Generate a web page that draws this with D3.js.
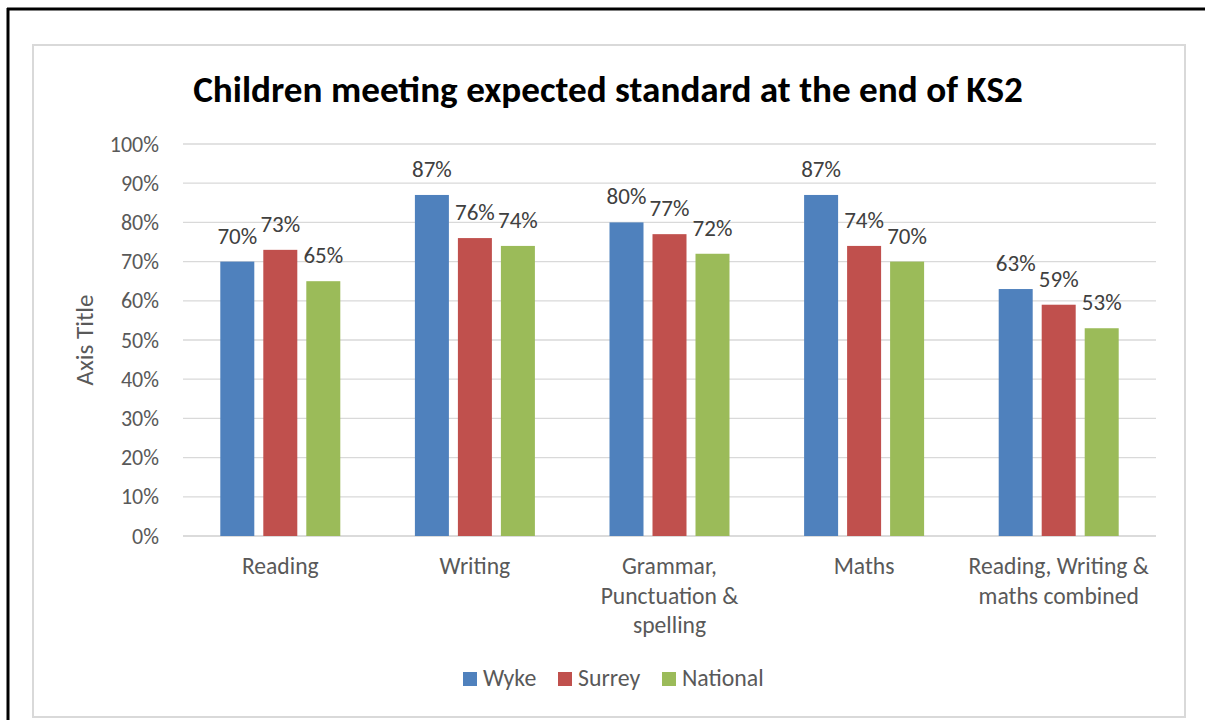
<!DOCTYPE html>
<html><head><meta charset="utf-8">
<script src="https://cdn.jsdelivr.net/npm/d3@7"></script>
<style>
html,body{margin:0;padding:0;background:#fff;}
svg{display:block;font-family:Calibri,Carlito,Lato,sans-serif;}
</style></head>
<body><svg id="c" width="1205" height="720"></svg>
<script>
const categories = [["Reading"],["Writing"],["Grammar,","Punctuation &","spelling"],["Maths"],["Reading, Writing &","maths combined"]];
const catKeys = ["Reading","Writing","Grammar","Maths","Combined"];
const seriesNames = ["Wyke","Surrey","National"];
const wyke = [70,87,80,87,63];
const surrey = [73,76,77,74,59];
const national = [65,74,72,70,53];
const colors = ["#4F81BD","#C0504D","#9BBB59"];
const yTicks = [0,10,20,30,40,50,60,70,80,90,100];
const seriesValues = [wyke, surrey, national];

const svg = d3.select("#c");
// outer black border (top and left)
svg.append("line").attr("x1",7).attr("x2",1205).attr("y1",9).attr("y2",9).attr("stroke","#000").attr("stroke-width",3);
svg.append("line").attr("x1",8).attr("x2",8).attr("y1",8).attr("y2",720).attr("stroke","#000").attr("stroke-width",3);
// chart area box
svg.append("rect").attr("x",33).attr("y",45).attr("width",1152).attr("height",672).attr("fill","#fff").attr("stroke","#d9d9d9").attr("stroke-width",2);

const x0 = d3.scaleBand().domain(catKeys).range([183,1156]).paddingInner(0).paddingOuter(0);
const y = d3.scaleLinear().domain([0,100]).range([536,144]);
const barW = 34, gap = 9;

// gridlines
svg.append("g").selectAll("line").data(yTicks).join("line")
  .attr("x1",183).attr("x2",1156).attr("y1",d=>y(d)).attr("y2",d=>y(d))
  .attr("stroke","#d9d9d9").attr("stroke-width",1.3);

// y axis labels
const yAxis = d3.axisLeft(y).tickValues(yTicks).tickFormat(d=>d+"%").tickSize(0).tickPadding(0);
const ya = svg.append("g").attr("transform","translate(159,0)").call(yAxis);
ya.select(".domain").remove();
ya.selectAll("text").attr("font-size",22).attr("fill","#595959").attr("font-family","Calibri,Carlito,Lato,sans-serif");

// x axis
svg.append("line").attr("x1",183).attr("x2",1156).attr("y1",y(0)).attr("y2",y(0)).attr("stroke","#d9d9d9").attr("stroke-width",1.5);

// bars + labels
seriesValues.forEach((vals,si)=>{
  const off = (si-1)*(barW+gap) - barW/2;
  svg.append("g").selectAll("rect").data(vals).join("rect")
    .attr("x",(d,i)=>x0(catKeys[i])+x0.bandwidth()/2+off)
    .attr("y",d=>y(d)).attr("width",barW).attr("height",d=>y(0)-y(d))
    .attr("fill",colors[si]);
  svg.append("g").selectAll("text").data(vals).join("text")
    .attr("x",(d,i)=>x0(catKeys[i])+x0.bandwidth()/2+off+barW/2)
    .attr("y",d=>y(d)-18)
    .attr("text-anchor","middle").attr("font-size",23).attr("fill","#404040")
    .text(d=>d+"%");
});

// category labels
categories.forEach((lines,i)=>{
  const cx = x0(catKeys[i])+x0.bandwidth()/2;
  const t = svg.append("text").attr("text-anchor","middle").attr("font-size",23.6).attr("fill","#595959").attr("x",cx);
  lines.forEach((l,j)=>t.append("tspan").attr("x",cx).attr("y",574+j*29.5).text(l));
});

// axis title
svg.append("text").attr("transform","translate(93,340) rotate(-90)").attr("text-anchor","middle")
  .attr("font-size",25).attr("fill","#595959").text("Axis Title");

// title
svg.append("text").attr("x",608).attr("y",102).attr("text-anchor","middle").attr("font-size",37.2)
  .attr("font-weight","bold").attr("fill","#000").text("Children meeting expected standard at the end of KS2");

// legend
const legX = [463,558,662];
seriesNames.forEach((n,i)=>{
  svg.append("rect").attr("x",legX[i]).attr("y",672).attr("width",14).attr("height",14).attr("fill",colors[i]);
  svg.append("text").attr("x",legX[i]+20).attr("y",686).attr("font-size",23.8).attr("fill","#595959").text(n);
});
</script></body></html>
